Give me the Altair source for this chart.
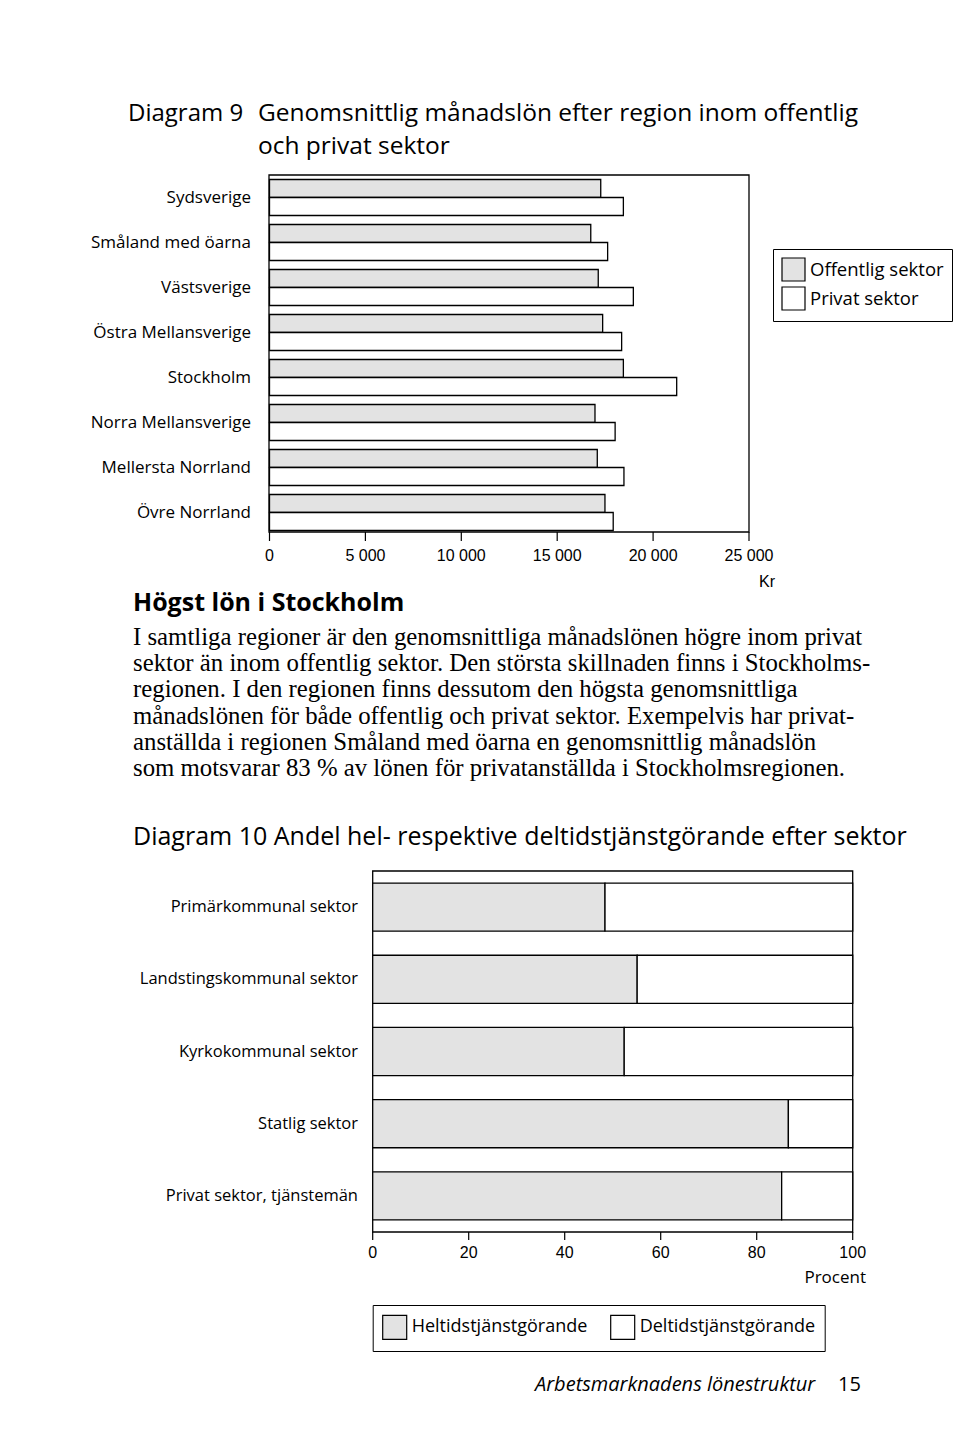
import altair as alt
import pandas as pd

# ---------------- data: Diagram 9 ----------------
regions = ["Sydsverige", "Småland med öarna", "Västsverige", "Östra Mellansverige",
           "Stockholm", "Norra Mellansverige", "Mellersta Norrland", "Övre Norrland"]
offentlig = [17270, 16750, 17140, 17370, 18450, 16970, 17090, 17490]
privat = [18450, 17630, 18970, 18360, 21230, 18020, 18480, 17920]
sector_names = ["Offentlig sektor", "Privat sektor"]
lon_ticks = [0, 5000, 10000, 15000, 20000, 25000]
lon_tick_labels = ["0", "5 000", "10 000", "15 000", "20 000", "25 000"]

# ---------------- data: Diagram 10 ----------------
sectors = ["Primärkommunal sektor", "Landstingskommunal sektor", "Kyrkokommunal sektor",
           "Statlig sektor", "Privat sektor, tjänstemän"]
heltid = [48.4, 55.1, 52.4, 86.6, 85.2]
deltid = [51.6, 44.9, 47.6, 13.4, 14.8]
type_names = ["Heltidstjänstgörande", "Deltidstjänstgörande"]
pct_ticks = [0, 20, 40, 60, 80, 100]

paragraph = [
    "I samtliga regioner är den genomsnittliga månadslönen högre inom privat",
    "sektor än inom offentlig sektor. Den största skillnaden finns i Stockholms-",
    "regionen. I den regionen finns dessutom den högsta genomsnittliga",
    "månadslönen för både offentlig och privat sektor. Exempelvis har privat-",
    "anställda i regionen Småland med öarna en genomsnittlig månadslön",
    "som motsvarar 83 % av lönen för privatanställda i Stockholmsregionen.",
]

GRAY = "#e3e3e3"
SANS = "Open Sans"
NUM = "Liberation Sans"
SERIF = "Liberation Serif"

one = alt.Data(values=[{}])


def label(text, x, y, size, font=SANS, align="left", baseline="middle", **kw):
    return alt.Chart(one).mark_text(
        align=align, baseline=baseline, font=font, fontSize=size, color="black", **kw
    ).encode(x=alt.value(x), y=alt.value(y), text=alt.value(text))


def frame(x1, x2, y1, y2):
    return alt.Chart(one).mark_rect(fillOpacity=0, stroke="black", strokeWidth=1.3).encode(
        x=alt.value(x1), x2=alt.value(x2), y=alt.value(y1), y2=alt.value(y2))


# ---------------- Diagram 9 ----------------
df1 = pd.DataFrame({
    "region": regions * 2,
    "sektor": [sector_names[0]] * len(regions) + [sector_names[1]] * len(regions),
    "lon": offentlig + privat,
})
x1s = alt.Scale(domain=[0, 25000], range=[269.5, 749], nice=False, zero=True)
y1s = alt.Scale(domain=regions, range=[175, 535], paddingInner=0.2, paddingOuter=0.1)

bars1 = alt.Chart(df1).mark_bar(stroke="black", strokeWidth=1.3, opacity=1).encode(
    x=alt.X("lon:Q", scale=x1s, axis=None),
    y=alt.Y("region:N", scale=y1s, axis=None, sort=regions),
    yOffset=alt.YOffset("sektor:N", sort=sector_names,
                        scale=alt.Scale(domain=sector_names, paddingInner=0, paddingOuter=0)),
    color=alt.Color("sektor:N", sort=sector_names,
                    scale=alt.Scale(domain=sector_names, range=[GRAY, "white"]),
                    legend=alt.Legend(title=None, orient="none", legendX=773, legendY=249,
                                      direction="vertical", symbolType="square",
                                      symbolSize=529, symbolStrokeColor="black",
                                      symbolStrokeWidth=1.2, symbolOpacity=1,
                                      labelFont=SANS, labelFontSize=18.5, labelColor="black",
                                      labelOffset=4, labelLimit=0, rowPadding=0, padding=8,
                                      strokeColor="black", fillColor="white")),
)
ticks1_df = pd.DataFrame({"tick": lon_ticks, "label": lon_tick_labels})
ticks1 = alt.Chart(ticks1_df).mark_rule(color="black", strokeWidth=1.2).encode(
    x=alt.X("tick:Q", scale=x1s, axis=None), y=alt.value(532), y2=alt.value(541))
ticklab1 = alt.Chart(ticks1_df).mark_text(font=NUM, fontSize=16, baseline="middle",
                                           align="center", color="black").encode(
    x=alt.X("tick:Q", scale=x1s, axis=None), y=alt.value(556), text="label:N")
reglab = alt.Chart(pd.DataFrame({"region": regions})).mark_text(
    font=SANS, fontSize=17, align="right", baseline="middle", color="black").encode(
    y=alt.Y("region:N", scale=y1s, axis=None, sort=regions), x=alt.value(251), text="region:N")

chart1 = alt.layer(bars1, ticks1, ticklab1, reglab)

# ---------------- Diagram 10 ----------------
df2 = pd.DataFrame({
    "sektor": sectors * 2,
    "typ": [type_names[0]] * len(sectors) + [type_names[1]] * len(sectors),
    "ordning": [0] * len(sectors) + [1] * len(sectors),
    "pct": heltid + deltid,
})
x2s = alt.Scale(domain=[0, 100], range=[372.7, 852.7], nice=False, zero=True)
y2s = alt.Scale(domain=sectors, range=[871, 1232], paddingInner=1 / 3, paddingOuter=1 / 6)

bars2 = alt.Chart(df2).mark_bar(stroke="black", strokeWidth=1.3, opacity=1).encode(
    x=alt.X("pct:Q", stack="zero", scale=x2s, axis=None),
    y=alt.Y("sektor:N", scale=y2s, axis=None, sort=sectors),
    order=alt.Order("ordning:Q"),
    color=alt.Color("typ:N", sort=type_names,
                    scale=alt.Scale(domain=type_names, range=[GRAY, "white"]),
                    legend=alt.Legend(title=None, orient="none", legendX=372.7, legendY=1305,
                                      direction="horizontal", symbolType="square",
                                      symbolSize=576, symbolStrokeColor="black",
                                      symbolStrokeWidth=1.2, symbolOpacity=1,
                                      labelFont=SANS, labelFontSize=18, labelColor="black",
                                      labelOffset=4, labelLimit=0, columnPadding=20, padding=9,
                                      strokeColor="black", fillColor="white")),
)
ticks2_df = pd.DataFrame({"tick": pct_ticks})
ticks2 = alt.Chart(ticks2_df).mark_rule(color="black", strokeWidth=1.2).encode(
    x=alt.X("tick:Q", scale=x2s, axis=None), y=alt.value(1232), y2=alt.value(1240))
ticklab2 = alt.Chart(ticks2_df).mark_text(font=NUM, fontSize=16, baseline="middle",
                                           align="center", color="black").encode(
    x=alt.X("tick:Q", scale=x2s, axis=None), y=alt.value(1253), text="tick:Q")
seclab = alt.Chart(pd.DataFrame({"sektor": sectors})).mark_text(
    font=SANS, fontSize=16.5, align="right", baseline="middle", color="black").encode(
    y=alt.Y("sektor:N", scale=y2s, axis=None, sort=sectors), x=alt.value(358), text="sektor:N")

chart2 = alt.layer(bars2, ticks2, ticklab2, seclab)

# ---------------- page texts ----------------
texts = [
    label("Diagram 9", 128, 120.5, 24, baseline="alphabetic"),
    label("Genomsnittlig månadslön efter region inom offentlig", 258, 120.5, 24.5,
          baseline="alphabetic"),
    label("och privat sektor", 258, 154, 24.5, baseline="alphabetic"),
    label("Kr", 767, 582, 16, font=NUM, align="center"),
    label("Högst lön i Stockholm", 133, 603, 25, fontWeight="bold"),
    label(paragraph, 133, 645, 24.8, font=SERIF, baseline="alphabetic", lineHeight=26.2),
    label("Diagram 10 Andel hel- respektive deltidstjänstgörande efter sektor", 133, 837, 25),
    label("Procent", 866, 1278, 17, align="right"),
    label("Arbetsmarknadens lönestruktur", 535, 1385, 20, fontStyle="italic"),
    label("15", 838, 1385, 20),
]

page = alt.layer(
    frame(269, 749, 175, 532), chart1,
    frame(372.7, 852.7, 871, 1232), chart2,
    *texts,
).resolve_scale(
    x="independent", y="independent", color="independent"
).properties(
    width=960, height=1438, padding=0,
    autosize=alt.AutoSizeParams(type="none"),
).configure(background="white").configure_view(stroke=None)

page.save("out.html", embed_options={"renderer": "svg", "actions": False})
